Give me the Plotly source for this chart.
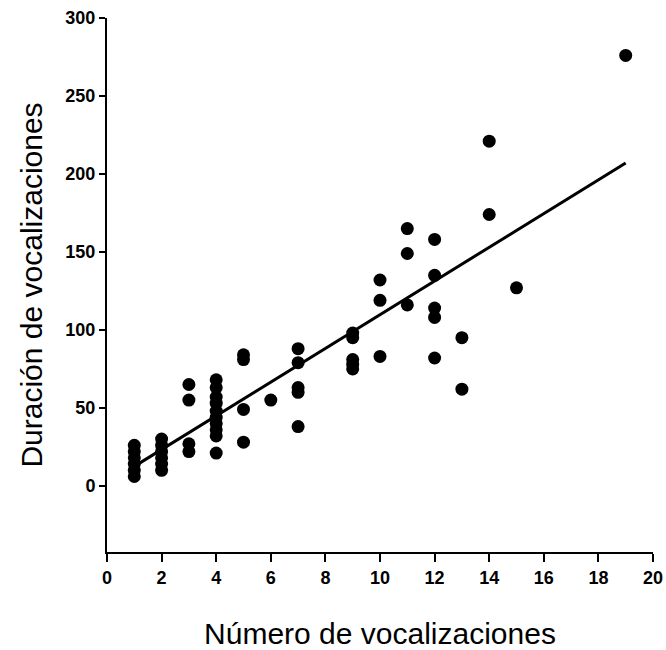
import plotly.graph_objects as go

# Data
x1 = [1, 1, 1, 1, 1, 1]
y1 = [26, 22, 18, 14, 10, 6]
x2 = [2, 2, 2, 2, 2, 2]
y2 = [30, 26, 22, 18, 14, 10]
x3 = [3, 3, 3, 3]
y3 = [65, 55, 27, 22]
x4 = [4, 4, 4, 4, 4, 4, 4, 4, 4, 4]
y4 = [68, 63, 57, 53, 48, 44, 40, 36, 32, 21]
x5 = [5, 5, 5, 5]
y5 = [84, 81, 49, 28]
x6 = [6]
y6 = [55]
x7 = [7, 7, 7, 7, 7]
y7 = [88, 79, 63, 60, 38]
x9 = [9, 9, 9, 9, 9]
y9 = [98, 95, 81, 78, 75]
x10 = [10, 10, 10]
y10 = [132, 119, 83]
x11 = [11, 11, 11]
y11 = [165, 149, 116]
x12 = [12, 12, 12, 12, 12]
y12 = [158, 135, 114, 108, 82]
x13 = [13, 13]
y13 = [95, 62]
x14 = [14, 14]
y14 = [221, 174]
x15 = [15]
y15 = [127]
x19 = [19]
y19 = [276]

fit_x = [1, 19]
fit_y = [12.5, 207]

xticks = [0, 2, 4, 6, 8, 10, 12, 14, 16, 18, 20]
yticks = [0, 50, 100, 150, 200, 250, 300]

xs = x1 + x2 + x3 + x4 + x5 + x6 + x7 + x9 + x10 + x11 + x12 + x13 + x14 + x15 + x19
ys = y1 + y2 + y3 + y4 + y5 + y6 + y7 + y9 + y10 + y11 + y12 + y13 + y14 + y15 + y19

fig = go.Figure()
fig.add_trace(go.Scatter(x=xs, y=ys, mode="markers",
                         marker=dict(color="black", size=13, line=dict(width=0)),
                         showlegend=False))
fig.add_trace(go.Scatter(x=fit_x, y=fit_y, mode="lines",
                         line=dict(color="black", width=3), showlegend=False))

fig.update_layout(
    width=666, height=650,
    margin=dict(l=107, r=13, t=18, b=98),
    paper_bgcolor="white", plot_bgcolor="white",
    font=dict(family="Liberation Sans, Arial, sans-serif", color="black"),
    xaxis=dict(range=[0, 20], tickvals=xticks, ticktext=[str(v) for v in xticks],
               automargin=False,
               showline=True, linecolor="black", linewidth=2,
               ticks="outside", ticklen=8, tickwidth=2, tickcolor="black",
               showgrid=False, zeroline=False,
               tickfont=dict(size=18, weight="bold"),
               title=dict(text="Número de vocalizaciones", font=dict(size=30), standoff=37)),
    yaxis=dict(range=[-42.4, 300], tickvals=yticks, ticktext=[str(v) for v in yticks],
               automargin=False,
               showline=True, linecolor="black", linewidth=2,
               ticks="outside", ticklen=6, tickwidth=2, tickcolor="black",
               showgrid=False, zeroline=False,
               tickfont=dict(size=18, weight="bold"),
               title=dict(text="Duración de vocalizaciones", font=dict(size=30), standoff=14)),
)

fig.write_html("out.html")
